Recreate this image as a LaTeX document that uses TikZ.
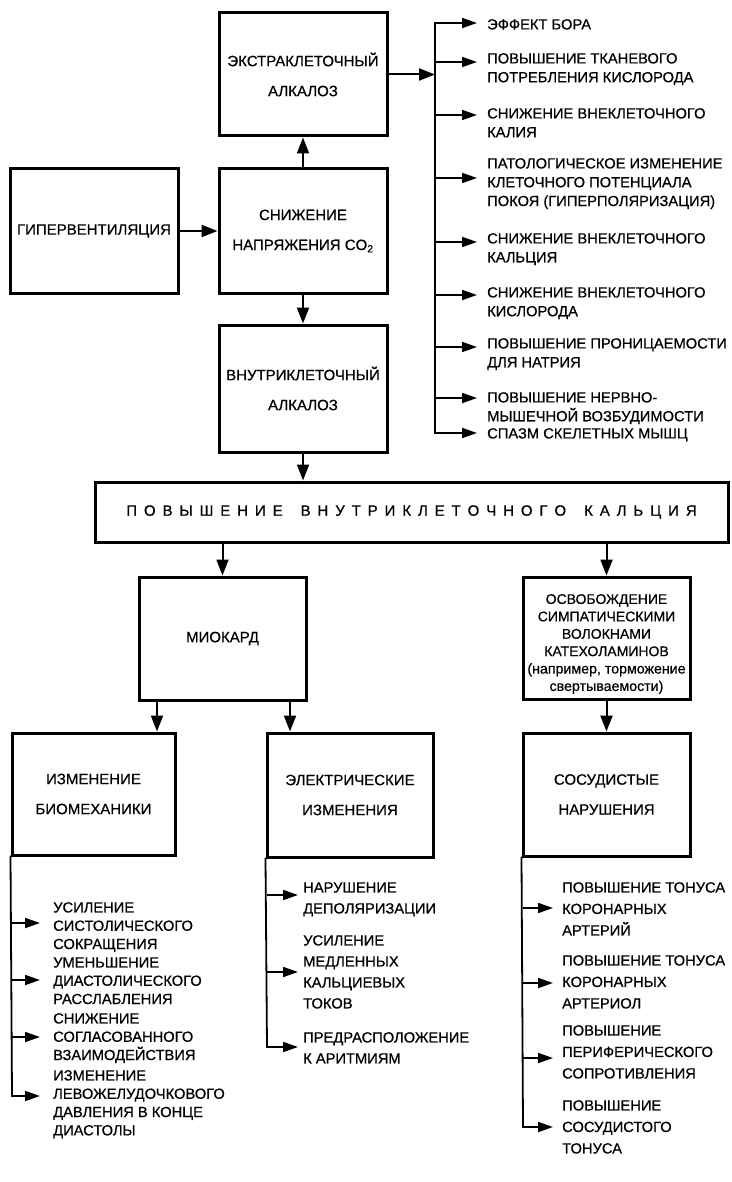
\documentclass[tikz,border=0pt]{standalone}
\usepackage{fontspec}
\setmainfont{Liberation Sans}[FakeBold=0.6]
\usetikzlibrary{arrows.meta}
\newdimen\lsk
\lsk=6.9pt
\def\spacedtext#1{\spacedA#1\relax\kern-\lsk}
\def\spacedA#1{\ifx\relax#1\else#1\kern\lsk\expandafter\spacedA\fi}
\newcommand\fs[2]{\fontsize{#1}{#2}\selectfont}
\newcommand\firststrut{\rule{0pt}{14pt}}
\begin{document}
\begin{tikzpicture}[x=1pt,y=-1pt,
  box/.style={draw,line width=3pt,inner sep=0pt,align=center,font=\fs{15}{30}},
  conn/.style={line width=2pt,-{Triangle[length=16pt,width=12pt]}},
  tick/.style={line width=1.8pt,-{Triangle[length=15pt,width=10pt]}},
  bus/.style={line width=1.8pt,line cap=rect},
  item/.style={anchor=north west,inner sep=0pt,align=left,font=\fs{14.7}{18.8}},
  itemb/.style={item,font=\fs{14.7}{18.3}},
  iteme/.style={item,font=\fs{14.7}{21}},
  items/.style={item,font=\fs{14.7}{21.5}}]
\useasboundingbox[fill=white] (0,0) rectangle (731,1182);

% boxes
\node[box,minimum width=168pt,minimum height=123pt] (ekstra) at (303,74.5) {ЭКСТРАКЛЕТОЧНЫЙ\\АЛКАЛОЗ};
\node[box,minimum width=168pt,minimum height=124pt] (snizh) at (303,231) {СНИЖЕНИЕ\\НАПРЯЖЕНИЯ CO\textsubscript{2}};
\node[box,minimum width=168pt,minimum height=124pt] (hyper) at (94,231) {ГИПЕРВЕНТИЛЯЦИЯ};
\node[box,minimum width=168pt,minimum height=127pt] (vnutri) at (303,388.5) {ВНУТРИКЛЕТОЧНЫЙ\\АЛКАЛОЗ};
\node[box,minimum width=633pt,minimum height=60pt,font=\fs{15}{18}] (wide) at (411.5,512) {\spacedtext{ПОВЫШЕНИЕ~ВНУТРИКЛЕТОЧНОГО~КАЛЬЦИЯ}};
\node[box,minimum width=167pt,minimum height=123pt] (miokard) at (222.5,638.5) {МИОКАРД};
\node[box,minimum width=167pt,minimum height=122pt] (osvob) at (606.5,638) {};
\node[inner sep=0pt,align=center,font=\fs{14}{17.4}] (osvobtext) at (606.5,644) {ОСВОБОЖДЕНИЕ\\СИМПАТИЧЕСКИМИ\\ВОЛОКНАМИ\\КАТЕХОЛАМИНОВ\\{\fs{14.2}{17.4}(например, торможение}\\{\fs{14.2}{17.4}свертываемости)}};
\node[box,minimum width=163pt,minimum height=122pt] (biomech) at (93.5,794) {ИЗМЕНЕНИЕ\\БИОМЕХАНИКИ};
\node[box,minimum width=166pt,minimum height=124pt] (electr) at (350,795) {ЭЛЕКТРИЧЕСКИЕ\\ИЗМЕНЕНИЯ};
\node[box,minimum width=167pt,minimum height=123pt] (sosud) at (606.5,794.5) {СОСУДИСТЫЕ\\НАРУШЕНИЯ};

% main connectors
\draw[conn] (hyper.east) -- (snizh.west);
\draw[conn] (snizh.north) -- (ekstra.south);
\draw[conn] (snizh.south) -- (vnutri.north);
\draw[conn] (vnutri.south) -- (vnutri.south |- wide.north);
\draw[conn] (miokard.north |- wide.south) -- (miokard.north);
\draw[conn] (osvob.north |- wide.south) -- (osvob.north);
\coordinate (ma) at (157,0);
\coordinate (mb) at (290,0);
\draw[conn] (miokard.south -| ma) -- (biomech.north -| ma);
\draw[conn] (miokard.south -| mb) -- (electr.north -| mb);
\draw[conn] (osvob.south) -- (sosud.north);

% right list
\coordinate (rtop) at (435,23);
\coordinate (rbot) at (435,433);
\draw[conn] (ekstra.east) -- (ekstra.east -| rtop);
\draw[bus] (rtop) -- (rbot);
\node[item] (r1) at (487,15.25) {\firststrut ЭФФЕКТ БОРА};
\node[item] (r2) at (487,49.25) {\firststrut ПОВЫШЕНИЕ ТКАНЕВОГО\\ПОТРЕБЛЕНИЯ КИСЛОРОДА};
\node[item] (r3) at (487,104.25) {\firststrut СНИЖЕНИЕ ВНЕКЛЕТОЧНОГО\\КАЛИЯ};
\node[item] (r4) at (487,154.25) {\firststrut ПАТОЛОГИЧЕСКОЕ ИЗМЕНЕНИЕ\\КЛЕТОЧНОГО ПОТЕНЦИАЛА\\ПОКОЯ (ГИПЕРПОЛЯРИЗАЦИЯ)};
\node[item] (r5) at (487,229.25) {\firststrut СНИЖЕНИЕ ВНЕКЛЕТОЧНОГО\\КАЛЬЦИЯ};
\node[item] (r6) at (487,283.25) {\firststrut СНИЖЕНИЕ ВНЕКЛЕТОЧНОГО\\КИСЛОРОДА};
\node[item] (r7) at (487,334.25) {\firststrut ПОВЫШЕНИЕ ПРОНИЦАЕМОСТИ\\ДЛЯ НАТРИЯ};
\node[item] (r8) at (487,388.25) {\firststrut ПОВЫШЕНИЕ НЕРВНО-\\МЫШЕЧНОЙ ВОЗБУДИМОСТИ};
\node[item] (r9) at (487,424.25) {\firststrut СПАЗМ СКЕЛЕТНЫХ МЫШЦ};
\coordinate (ra1) at (435,23);
\coordinate (ra2) at (435,62);
\coordinate (ra3) at (435,115);
\coordinate (ra4) at (435,178);
\coordinate (ra5) at (435,242);
\coordinate (ra6) at (435,295);
\coordinate (ra7) at (435,347);
\coordinate (ra8) at (435,398);
\coordinate (ra9) at (435,433);
\foreach \i in {1,...,9} {\draw[tick,shorten >=10pt] (ra\i) -- (ra\i -| r\i.west);}

% biomechanics list
\draw[bus] (biomech.south west) -- (12,1096);
\node[itemb] (b1) at (53,898.25) {\firststrut УСИЛЕНИЕ\\СИСТОЛИЧЕСКОГО\\СОКРАЩЕНИЯ};
\node[itemb] (b2) at (53,953.25) {\firststrut УМЕНЬШЕНИЕ\\ДИАСТОЛИЧЕСКОГО\\РАССЛАБЛЕНИЯ};
\node[itemb] (b3) at (53,1009.25) {\firststrut СНИЖЕНИЕ\\СОГЛАСОВАННОГО\\ВЗАИМОДЕЙСТВИЯ};
\node[itemb] (b4) at (53,1066.25) {\firststrut ИЗМЕНЕНИЕ\\ЛЕВОЖЕЛУДОЧКОВОГО\\ДАВЛЕНИЯ В КОНЦЕ\\ДИАСТОЛЫ};
\coordinate (ba1) at (12,923);
\coordinate (ba2) at (12,980);
\coordinate (ba3) at (12,1037);
\coordinate (ba4) at (12,1096);
\foreach \i in {1,...,4} {\draw[tick,shorten >=13pt] (ba\i) -- (ba\i -| b\i.west);}

% electrical list
\draw[bus] (electr.south west) -- (267,1047);
\node[iteme] (e1) at (303,878.25) {\firststrut НАРУШЕНИЕ\\ДЕПОЛЯРИЗАЦИИ};
\node[iteme] (e2) at (303,931.25) {\firststrut УСИЛЕНИЕ\\МЕДЛЕННЫХ\\КАЛЬЦИЕВЫХ\\ТОКОВ};
\node[iteme] (e3) at (303,1028.25) {\firststrut ПРЕДРАСПОЛОЖЕНИЕ\\К АРИТМИЯМ};
\coordinate (ea1) at (267,895);
\coordinate (ea2) at (267,972);
\coordinate (ea3) at (267,1047);
\foreach \i in {1,...,3} {\draw[tick,shorten >=5pt] (ea\i) -- (ea\i -| e\i.west);}

% vascular list
\draw[bus] (sosud.south west) -- (523,1127);
\node[items] (s1) at (562,878.25) {\firststrut ПОВЫШЕНИЕ ТОНУСА\\КОРОНАРНЫХ\\АРТЕРИЙ};
\node[items] (s2) at (562,951.25) {\firststrut ПОВЫШЕНИЕ ТОНУСА\\КОРОНАРНЫХ\\АРТЕРИОЛ};
\node[items] (s3) at (562,1021.25) {\firststrut ПОВЫШЕНИЕ\\ПЕРИФЕРИЧЕСКОГО\\СОПРОТИВЛЕНИЯ};
\node[items] (s4) at (562,1096.25) {\firststrut ПОВЫШЕНИЕ\\СОСУДИСТОГО\\ТОНУСА};
\coordinate (sa1) at (523,908);
\coordinate (sa2) at (523,983);
\coordinate (sa3) at (523,1058);
\coordinate (sa4) at (523,1127);
\foreach \i in {1,...,4} {\draw[tick,shorten >=9pt] (sa\i) -- (sa\i -| s\i.west);}
\end{tikzpicture}
\end{document}
